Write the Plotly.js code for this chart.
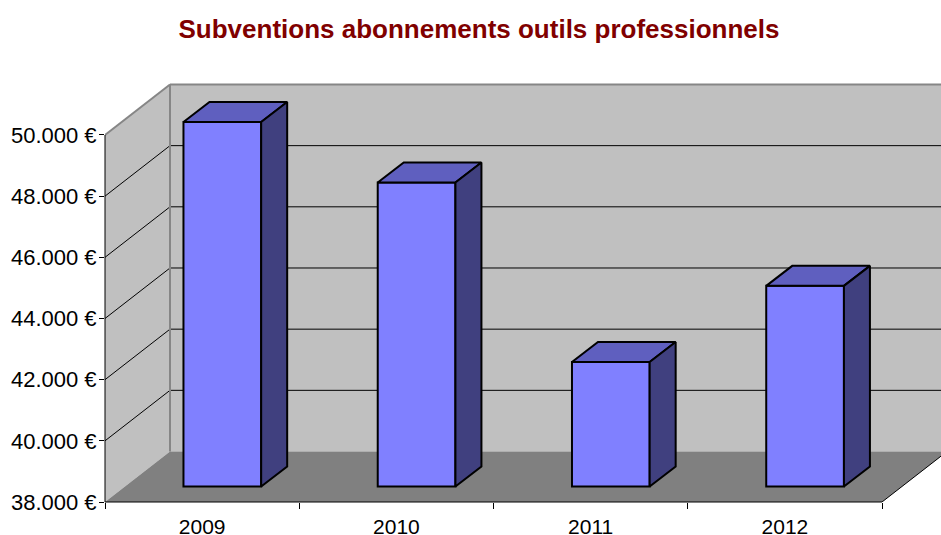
<!DOCTYPE html>
<html>
<head>
<meta charset="utf-8">
<script src="https://cdn.plot.ly/plotly-3.0.1.min.js"></script>
<style>html,body{margin:0;padding:0;background:#fff}#chart{width:941px;height:535px}</style>
</head>
<body>
<div id="chart"></div>
<script>
var titleText = 'Subventions abonnements outils professionnels';
var years = ['2009', '2010', '2011', '2012'];
var values = [49920, 47940, 42070, 44560];
var yTicks = [38000, 40000, 42000, 44000, 46000, 48000, 50000];
var yLabels = ['38.000 €', '40.000 €', '42.000 €', '44.000 €', '46.000 €', '48.000 €', '50.000 €'];

// pixel scales of the drawing
var pxPerCat = 194.25, pxPer2000 = 61.17;
var W = 941, H = 535, L = 105, T = 80, B = 33;
var plotW = W - L, plotH = H - T - B;
function dx(p) { return p / pxPerCat; }
function dy(p) { return p / pxPer2000 * 2000; }

var yMin = 38000, yMax = yMin + dy(plotH);
var xMin = 0.5, xMax = xMin + dx(plotW), xEnd = 4.5;

// depth of the box (walls) and of the columns
var wallDX = dx(65), wallDY = dy(50.5);
var barShiftX = dx(20.2), barShiftY = dy(15.5);
var barDX = dx(26), barDY = dy(20);
var barW = 0.4;

var colFront = '#8080ff', colTop = '#5f5fbf', colSide = '#40407f';
var wall = '#c0c0c0', floorCol = '#808080', edge = '#868686';

function poly(xs, ys, fill, lw, lc) {
  var path = xs.map(function (x, i) { return (i ? 'L' : 'M') + x + ',' + ys[i]; }).join('') + 'Z';
  return { type: 'path', path: path, xref: 'x', yref: 'y', layer: 'below', fillcolor: fill, line: { width: lw || 0, color: lc || fill } };
}
function seg(x0, y0, x1, y1, color, w) {
  return { type: 'line', xref: 'x', yref: 'y', layer: 'below', x0: x0, y0: y0, x1: x1, y1: y1, line: { color: color, width: w } };
}

var bx = xMin + wallDX, by = yMin + wallDY, ty = 50000 + wallDY;
var shapes = [
  poly([bx, xMax, xMax, bx], [by, by, ty, ty], wall),
  poly([xMin, bx, bx, xMin], [yMin, by, ty, 50000], wall),
  poly([xMin, xEnd, xEnd + wallDX, bx], [yMin, yMin, by, by], floorCol)
];
yTicks.slice(1, -1).forEach(function (t) {
  shapes.push(seg(xMin, t, bx, t + wallDY, '#000', 1));
  shapes.push(seg(bx, t + wallDY, xMax, t + wallDY, '#000', 1));
});
shapes.push(seg(xMin, 50000, bx, ty, edge, 2));
shapes.push(seg(bx, ty, xMax, ty, edge, 2));
shapes.push(seg(bx, by, bx, ty, edge, 2));
shapes.push(seg(xEnd, yMin, xEnd + wallDX, by, '#000', 1));
shapes.push({ type: 'line', xref: 'x', yref: 'paper', x0: xMin, x1: xEnd, y0: 0, y1: 0, line: { color: '#000', width: 1 } });
shapes.push({ type: 'line', xref: 'paper', yref: 'y', x0: 0, x1: 0, y0: yMin, y1: 50000, line: { color: '#000', width: 1 } });

var catPos = years.map(function (_, i) { return i + 1; });
var traces = [{
  type: 'bar',
  x: catPos.map(function (c) { return c + barShiftX; }),
  y: values.map(function (v) { return v - yMin; }),
  base: yMin + barShiftY,
  width: barW,
  marker: { color: colFront, line: { color: '#000', width: 2 } },
  hoverinfo: 'skip',
  showlegend: false
}];
values.forEach(function (v, i) {
  var x0 = catPos[i] + barShiftX - barW / 2, x1 = x0 + barW;
  var top = v + barShiftY, base = yMin + barShiftY;
  traces.push({
    type: 'scatter', mode: 'lines', fill: 'toself', fillcolor: colTop,
    x: [x0, x1, x1 + barDX, x0 + barDX, x0],
    y: [top, top, top + barDY, top + barDY, top],
    line: { color: '#000', width: 2 }, hoverinfo: 'skip', showlegend: false
  });
  traces.push({
    type: 'scatter', mode: 'lines', fill: 'toself', fillcolor: colSide,
    x: [x1, x1 + barDX, x1 + barDX, x1, x1],
    y: [top, top + barDY, base + barDY, base, top],
    line: { color: '#000', width: 2 }, hoverinfo: 'skip', showlegend: false
  });
});

var layout = {
  width: W, height: H,
  margin: { l: L, r: 0, t: T, b: B, pad: 0 },
  paper_bgcolor: '#fff', plot_bgcolor: '#fff',
  showlegend: false,
  font: { family: 'Liberation Sans, Arial, sans-serif', color: '#000' },
  title: {
    text: titleText,
    font: { family: 'Liberation Sans, Arial, sans-serif', size: 26, weight: 'bold', color: '#800000' },
    xref: 'container', yref: 'container', x: 479 / W, xanchor: 'center', y: 1 - 29 / H, yanchor: 'middle'
  },
  xaxis: {
    type: 'linear', range: [xMin, xMax], tickmode: 'array', tickvals: catPos, ticktext: years,
    ticks: 'outside', ticklen: 6, tickcolor: 'rgba(0,0,0,0)', showgrid: false, zeroline: false, showline: false,
    tickfont: { size: 21, color: '#000' },
    minor: { tickmode: 'array', tickvals: [0.5, 1.5, 2.5, 3.5, 4.5], ticks: 'outside', ticklen: 6, tickcolor: '#000', tickwidth: 1, showgrid: false }
  },
  yaxis: {
    type: 'linear', range: [yMin, yMax], tickmode: 'array', tickvals: yTicks, ticktext: yLabels,
    ticks: 'outside', ticklen: 5, tickcolor: '#000', tickwidth: 1, showgrid: false, zeroline: false, showline: false,
    ticklabelstandoff: -2,
    tickfont: { size: 22, color: '#000' }
  },
  shapes: shapes
};
Plotly.newPlot('chart', traces, layout, { displayModeBar: false, staticPlot: true });
</script>
</body>
</html>
